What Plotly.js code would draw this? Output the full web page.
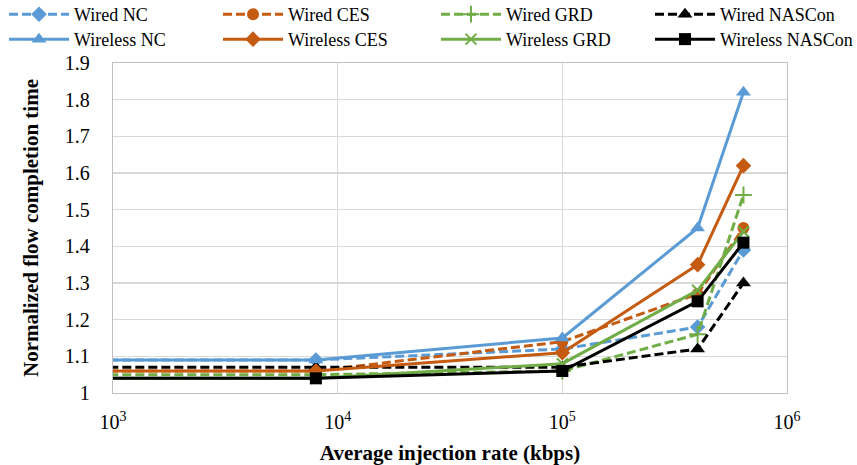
<!DOCTYPE html>
<html>
<head>
<meta charset="utf-8">
<script src="https://cdn.plot.ly/plotly-3.0.1.min.js"></script>
<style>
  html, body { margin: 0; padding: 0; background: #fff; }
  #chart { width: 857px; height: 465px; }
</style>
</head>
<body>
<div id="chart"></div>
<script>
// Average injection rate (kbps)
const rates = [100, 8000, 100000, 400000, 640000];

// Normalized flow completion time per scheme
const wiredNC       = [1.09, 1.09, 1.12, 1.18, 1.39];
const wiredCES      = [1.06, 1.06, 1.14, 1.27, 1.45];
const wiredGRD      = [1.05, 1.05, 1.06, 1.16, 1.54];
const wiredNASCon   = [1.07, 1.07, 1.07, 1.12, 1.30];
const wirelessNC    = [1.09, 1.09, 1.15, 1.45, 1.82];
const wirelessCES   = [1.06, 1.06, 1.11, 1.35, 1.62];
const wirelessGRD   = [1.04, 1.04, 1.08, 1.28, 1.44];
const wirelessNASCon= [1.04, 1.04, 1.06, 1.25, 1.41];

const xTickVals = [1000, 10000, 100000, 1000000];
const xTickText = ['10<sup>3</sup>', '10<sup>4</sup>', '10<sup>5</sup>', '10<sup>6</sup>'];

const BLUE = '#5B9BD5', ORANGE = '#C55A11', GREEN = '#70AD47', BLACK = '#000000';
const DASH = '9px,4px';
const FONT = "'Liberation Serif', 'Times New Roman', serif";

function series(name, y, color, dashed, symbol, size, legendId) {
  return {
    type: 'scatter', mode: 'lines+markers', name: name, legend: legendId,
    x: rates, y: y,
    line: { color: color, width: 3, dash: dashed ? DASH : 'solid' },
    marker: {
      symbol: symbol, size: size, color: color,
      line: { color: color, width: (symbol.indexOf('thin') >= 0) ? 2 : 0 }
    }
  };
}

const data = [
  series('Wired NC', wiredNC, BLUE, true, 'diamond', 12, 'legend'),
  series('Wired CES', wiredCES, ORANGE, true, 'circle', 12, 'legend2'),
  series('Wired GRD', wiredGRD, GREEN, true, 'cross-thin', 12, 'legend3'),
  series('Wired NASCon', wiredNASCon, BLACK, true, 'triangle-up', 13, 'legend4'),
  series('Wireless NC', wirelessNC, BLUE, false, 'triangle-up', 13, 'legend5'),
  series('Wireless CES', wirelessCES, ORANGE, false, 'diamond', 12, 'legend6'),
  series('Wireless GRD', wirelessGRD, GREEN, false, 'x-thin', 11, 'legend7'),
  series('Wireless NASCon', wirelessNASCon, BLACK, false, 'square', 12, 'legend8')
];

// Legend grid: 4 columns x 2 rows above the plot, one legend box per entry
const legendCols = [-0.1617, 0.1558, 0.4792, 0.7967];
const legendRows = [1.203, 1.1275];

function legendBox(col, row) {
  return {
    orientation: 'v', x: legendCols[col], xanchor: 'left', y: legendRows[row], yanchor: 'top',
    itemwidth: 60,
    font: { family: FONT, size: 18, color: '#000' },
    bgcolor: 'rgba(0,0,0,0)'
  };
}

const layout = {
  width: 857, height: 465,
  margin: { l: 113, r: 70, t: 63, b: 72, autoexpand: false },
  paper_bgcolor: '#fff', plot_bgcolor: '#fff',
  font: { family: FONT, color: '#000', size: 20 },
  showlegend: true,
  legend: legendBox(0, 0), legend2: legendBox(1, 0), legend3: legendBox(2, 0), legend4: legendBox(3, 0),
  legend5: legendBox(0, 1), legend6: legendBox(1, 1), legend7: legendBox(2, 1), legend8: legendBox(3, 1),
  xaxis: {
    type: 'log', range: [3, 6],
    tickvals: xTickVals, ticktext: xTickText,
    showgrid: true, gridcolor: '#d9d9d9', gridwidth: 1.3,
    showline: true, linecolor: '#bfbfbf', linewidth: 1.3, mirror: true,
    ticks: '', ticklabelstandoff: 11, zeroline: false,
    tickfont: { family: FONT, size: 20 },
    title: { text: '<b>Average injection rate (kbps)</b>', font: { family: FONT, size: 21 }, standoff: 13 }
  },
  yaxis: {
    range: [1, 1.9], dtick: 0.1, tick0: 1,
    showgrid: true, gridcolor: '#d9d9d9', gridwidth: 1.3,
    showline: true, linecolor: '#bfbfbf', linewidth: 1.3, mirror: true,
    ticks: '', ticklabelstandoff: 18, zeroline: false,
    tickfont: { family: FONT, size: 20 },
    title: { text: '<b>Normalized flow completion time</b>', font: { family: FONT, size: 21 }, standoff: 20 }
  }
};

Plotly.newPlot('chart', data, layout, { displayModeBar: false, staticPlot: true });
</script>
</body>
</html>
